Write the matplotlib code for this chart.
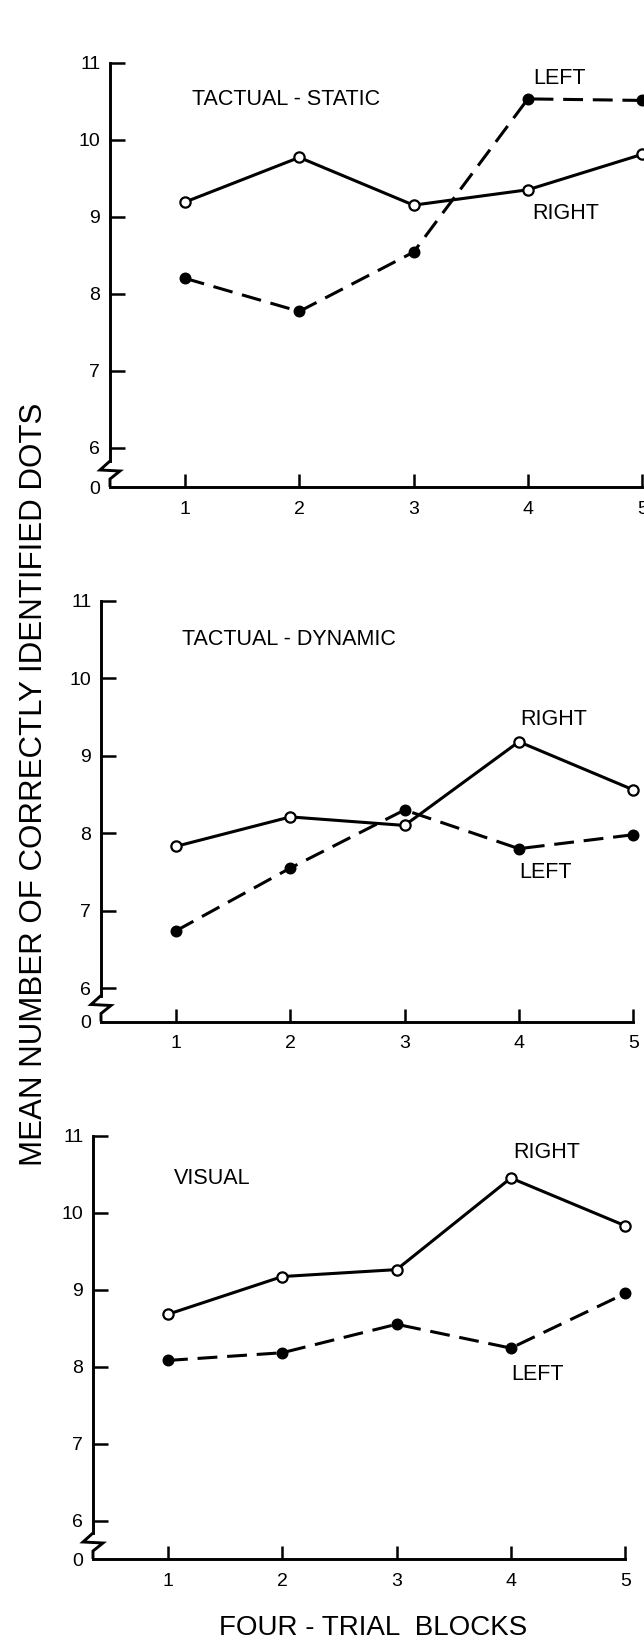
import matplotlib
matplotlib.use("Agg")
import matplotlib.pyplot as plt
import matplotlib.transforms as mtransforms

plt.rcParams['font.family'] = ['Liberation Sans', 'DejaVu Sans']

# ---- data ----
blocks = [1, 2, 3, 4, 5]
x_tick_labels = ['1', '2', '3', '4', '5']
y_ticks = [6, 7, 8, 9, 10, 11]
y_tick_labels = ['6', '7', '8', '9', '10', '11']

static_right = [9.19, 9.77, 9.15, 9.35, 9.81]
static_left = [8.20, 7.77, 8.54, 10.53, 10.51]

dynamic_right = [7.83, 8.21, 8.10, 9.18, 8.56]
dynamic_left = [6.74, 7.55, 8.30, 7.80, 7.98]

visual_right = [8.68, 9.17, 9.26, 10.45, 9.83]
visual_left = [8.08, 8.18, 8.55, 8.24, 8.95]

titles = ['TACTUAL - STATIC', 'TACTUAL - DYNAMIC', 'VISUAL']

W, H = 644, 1642
fig = plt.figure(figsize=(W / 100, H / 100), dpi=100)

XMIN = 0.344
LW = 2.2
AXLW = 2.1


def panel(left_px, top_px, bottom_px, ymin, right_vals, left_vals, title,
          title_xy, right_xy, left_xy):
    width_px = (5.0 - XMIN) * 114.3
    ax = fig.add_axes([left_px / W, 1 - bottom_px / H, width_px / W,
                       (bottom_px - top_px) / H])
    ax.set_xlim(XMIN, 5.0)
    ax.set_ylim(ymin, 11)
    ax.set_facecolor('none')

    ax.plot(blocks, right_vals, color='black', lw=LW, marker='o',
            mfc='white', mec='black', ms=7.4, mew=1.6, clip_on=False, zorder=3)
    ax.plot(blocks, left_vals, color='black', lw=LW, dashes=(6.5, 3.2),
            marker='o', mfc='black', mec='black', ms=7.4, mew=1.2,
            clip_on=False, zorder=3)

    for s in ('top', 'right'):
        ax.spines[s].set_visible(False)
    for s in ('left', 'bottom'):
        ax.spines[s].set_linewidth(AXLW)
    ppu = (bottom_px - top_px) / (11 - ymin)
    ax.spines['left'].set_bounds(ymin + 26 / ppu, 11)
    ax.spines['bottom'].set_bounds(XMIN, 5.0)

    # axis break zigzag (pixel offsets from the corner)
    fig.canvas.draw()
    cx, cy = ax.transAxes.transform((0, 0))
    zx = [0, -10, 10, 0, 0]
    zy = [26, 17, 16, 8, 0]
    tr = mtransforms.Affine2D().translate(cx, cy)
    ax.plot(zx, zy, color='black', lw=AXLW, transform=tr, clip_on=False,
            solid_joinstyle='miter', solid_capstyle='butt')

    ax.set_yticks([ymin] + y_ticks)
    ax.set_yticklabels(['0'] + y_tick_labels)
    ax.yaxis.get_major_ticks()[0].tick1line.set_visible(False)
    ax.set_xticks(blocks)
    ax.set_xticklabels(x_tick_labels)
    ax.tick_params(axis='y', direction='in', length=11, width=1.8, pad=7,
                   labelsize=14)
    ax.tick_params(axis='x', direction='in', length=9.5, width=1.8, pad=10,
                   labelsize=14)

    ax.text(title_xy[0], title_xy[1], title, fontsize=15.5, ha='left',
            va='center')
    ax.text(right_xy[0], right_xy[1], 'RIGHT', fontsize=15.5, ha='left',
            va='center')
    ax.text(left_xy[0], left_xy[1], 'LEFT', fontsize=15.5, ha='left',
            va='center')
    return ax


panel(110, 62.7, 487, 5.49, static_right, static_left, titles[0],
      (1.06, 10.52), (4.04, 9.04), (4.05, 10.79))
panel(101, 600.7, 1021.5, 5.57, dynamic_right, dynamic_left, titles[1],
      (1.05, 10.5), (4.01, 9.47), (4.0, 7.49))
panel(93, 1135.7, 1559, 5.50, visual_right, visual_left, titles[2],
      (1.05, 10.45), (4.02, 10.78), (4.0, 7.9))

fig.text(34 / W, 1 - 784 / H, 'MEAN NUMBER OF CORRECTLY IDENTIFIED DOTS',
         rotation=90, ha='center', va='center', fontsize=22.5)
fig.text(373 / W, 1 - 1628 / H, 'FOUR - TRIAL  BLOCKS', ha='center',
         va='center', fontsize=20)

fig.savefig('out.png', dpi=100, facecolor='white')
